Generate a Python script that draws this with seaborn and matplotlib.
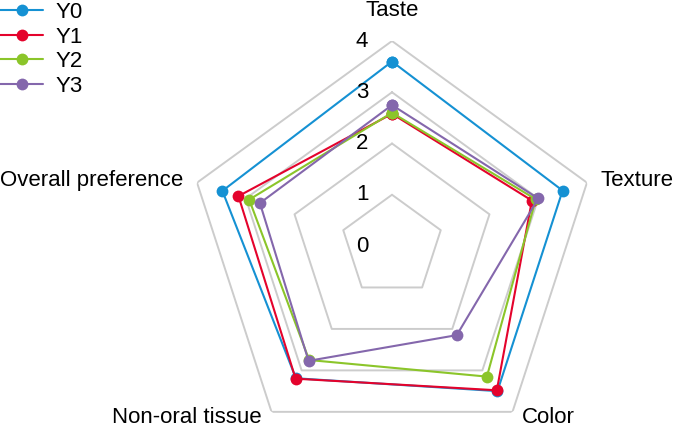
import numpy as np
import pandas as pd
import matplotlib
matplotlib.use("Agg")
import matplotlib.pyplot as plt
import seaborn as sns

# ========================
# Data
# ========================
attributes = ["Taste", "Texture", "Color", "Non-oral tissue", "Overall preference"]
series_names = ["Y0", "Y1", "Y2", "Y3"]
y0 = [3.60, 3.50, 3.50, 3.19, 3.48]
y1 = [2.58, 2.87, 3.48, 3.20, 3.15]
y2 = [2.60, 2.95, 3.15, 2.75, 2.93]
y3 = [2.75, 3.00, 2.15, 2.77, 2.71]
levels = [0, 1, 2, 3, 4]

colors = ["#1591d3", "#e4032c", "#8bc52a", "#8467ac"]

# ========================
# Build long table (closed loops)
# ========================
angles = np.linspace(0, 2 * np.pi, len(attributes), endpoint=False)
rows = []
for name, vals in zip(series_names, [y0, y1, y2, y3]):
    for i in range(len(attributes) + 1):
        k = i % len(attributes)
        theta = angles[k] if i < len(attributes) else 2 * np.pi
        rows.append({"series": name, "theta": theta, "value": vals[k]})
df = pd.DataFrame(rows)

sns.set_theme(style="white")
plt.rcParams["font.family"] = ["Liberation Sans", "DejaVu Sans"]
plt.rcParams["text.color"] = "black"

fig = plt.figure(figsize=(6.74, 4.29), dpi=100)
cx, cy, R = 392, 246, 205
W, H = 674, 429
ax = fig.add_axes([(cx - R) / W, (H - cy - R) / H, 2 * R / W, 2 * R / H],
                  projection="polar")
ax.set_theta_offset(np.pi / 2)
ax.set_theta_direction(-1)

sns.lineplot(data=df, x="theta", y="value", hue="series", palette=colors,
             sort=False, estimator=None, marker="o", markersize=8.5,
             markeredgewidth=0, linewidth=1.5, legend=False, ax=ax, zorder=3)
handles = list(ax.lines[:4])

# pentagon grid
closed = np.append(angles, angles[0])
for lvl in levels[1:]:
    ax.plot(closed, [lvl] * len(closed), color="#cccccc", lw=1.4, zorder=1)

ax.set_ylim(0, 4)
ax.set_xticks([])
ax.set_yticks([])
ax.grid(False)
ax.spines["polar"].set_visible(False)
ax.set_xlabel("")
ax.set_ylabel("")

fs = 16
# radial labels, placed left of the top axis
for lvl in levels:
    ax.annotate(str(lvl), xy=(0, lvl), xytext=(-21.6, 0), textcoords="offset points",
                ha="center", va="center", fontsize=fs)

# category labels
ax.text(angles[0], 4.6, attributes[0], ha="center", va="center", fontsize=fs)
ax.text(np.deg2rad(72.5), 4.27, attributes[1], ha="left", va="center", fontsize=fs)
ax.text(np.deg2rad(142.8), 4.2, attributes[2], ha="left", va="center", fontsize=fs)
ax.text(np.deg2rad(217.2), 4.2, attributes[3], ha="right", va="center", fontsize=fs)
ax.text(np.deg2rad(287.5), 4.27, attributes[4], ha="right", va="center", fontsize=fs)

fig.legend(handles, series_names, loc="upper left", bbox_to_anchor=(0, 0.995),
           frameon=False, fontsize=fs, handlelength=1.94, handletextpad=0.54,
           labelspacing=0.16, borderpad=0, borderaxespad=0)

plt.savefig("out.png", dpi=100)
plt.close()
